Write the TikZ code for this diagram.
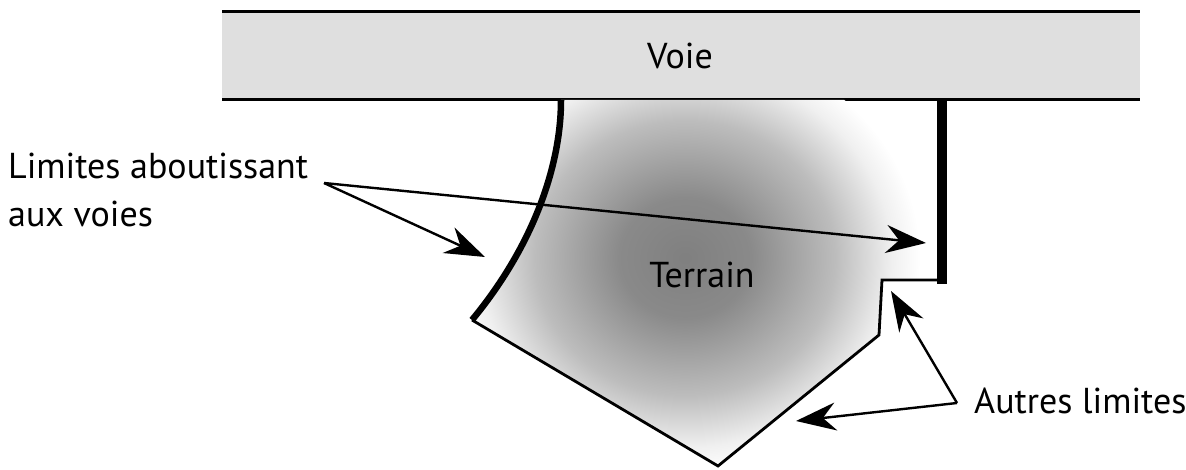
\documentclass[tikz,border=0pt]{standalone}
\usepackage{fontspec}
\setmainfont{PT Sans}
\usetikzlibrary{arrows.meta}
\definecolor{roadgray}{RGB}{223,223,223}
\pgfdeclareradialshading{terrainfade}{\pgfpoint{0bp}{0bp}}{%
  color(0bp)=(black!50); color(7bp)=(black!46); color(16bp)=(black!26);
  color(22bp)=(black!6); color(25bp)=(white); color(50bp)=(white)}
\begin{document}
\begin{tikzpicture}[x=1pt,y=-1pt,
  label/.style={inner sep=0pt, font=\fontsize{36}{41}\selectfont},
  edge/.style={line width=2.8pt, line join=miter},
  frontage/.style={line width=6.5pt},
  pointer/.style={line width=2.4pt, -{Stealth[length=40pt,width=28pt,inset=13pt]}}]
\useasboundingbox (0,0) rectangle (1186,470);

% the road
\fill[roadgray] (222,12) rectangle (1140,100);
\draw[line width=3pt] (222,12) -- (1140,12);
\draw[line width=3pt] (222,100) -- (1140,100);
\node[label] (voie) at (680,56) {Voie};

% the plot, shaded
\begin{scope}
  \clip (561,100) .. controls (561,170) and (530,250) .. (472,320) -- (718,466)
        -- (879,335) -- (882,280) -- (942,280) -- (942,100) -- cycle;
  \shade[shading=terrainfade] (685,258) ellipse (235 and 215);
\end{scope}

% other boundaries
\draw[edge] (472,320) -- (718,466) -- (879,335) -- (882,280) -- (946,280);
% boundaries on the road
\draw[frontage] (561,100) .. controls (561,170) and (530,250) .. (472,320);
\draw[line width=9.5pt] (942,100) -- (942,284);

\node[label] (terrain) at (702,275) {Terrain};

% labels and pointers
\node[label, anchor=north west, align=left] (lim) at (8,153)
  {Limites aboutissant\\[7pt]aux voies};
\coordinate (limtail) at (324,183);
\coordinate (tipcurve) at (485,257);
\coordinate (tipright) at (926,243);
\draw[pointer] (limtail) -- (tipcurve);
\draw[pointer] (limtail) -- (tipright);

\node[label, anchor=base west] (autres) at (974,413) {Autres limites};
\coordinate (autail) at (957,403);
\coordinate (tipstep) at (891,291);
\coordinate (tipslant) at (796,421);
\draw[pointer] (autail) -- (tipstep);
\draw[pointer] (autail) -- (tipslant);
\end{tikzpicture}
\end{document}
